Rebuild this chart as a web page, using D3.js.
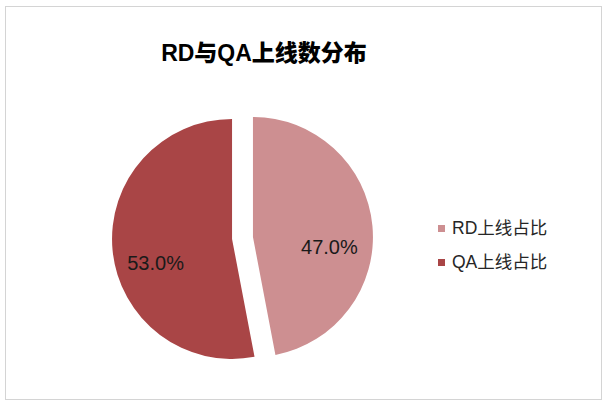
<!DOCTYPE html>
<html>
<head>
<meta charset="utf-8">
<script src="https://cdn.jsdelivr.net/npm/d3@7"></script>
<style>
  body { margin: 0; background: #fff; }
  svg { display: block; }
  text { font-family: "Liberation Sans", Arial, "Noto Sans CJK SC", sans-serif; }
</style>
</head>
<body>
<svg id="chart" width="606" height="404"></svg>
<script>
var categories = ["RD上线占比", "QA上线占比"];
var shares = [47.0, 53.0];
var colors = ["#cd8f91", "#a94546"];
var title = "RD与QA上线数分布";

var svg = d3.select("#chart");

// chart frame
svg.append("rect")
    .attr("x", 5.5).attr("y", 6.5)
    .attr("width", 596).attr("height", 393)
    .attr("fill", "none")
    .attr("stroke", "#d4d4d4");

svg.append("text")
    .attr("x", 264).attr("y", 53)
    .attr("text-anchor", "middle")
    .attr("dominant-baseline", "central")
    .style("font-size", "23px")
    .style("font-weight", "900")
    .text(title);

var cx = 242.5, cy = 238, radius = 120, explode = 10.5;

var pie = d3.pie().sort(null).value(function (d) { return d; });
var arcs = pie(shares);

var arc = d3.arc().innerRadius(0).outerRadius(radius);
var labelArc = d3.arc().innerRadius(radius * 0.64).outerRadius(radius * 0.64);

var offset = function (d) {
    var a = (d.startAngle + d.endAngle) / 2;
    return [Math.sin(a) * explode, -Math.cos(a) * explode];
};

var g = svg.append("g").attr("transform", "translate(" + cx + "," + cy + ")");

var slices = g.selectAll("g.slice")
    .data(arcs)
    .enter().append("g")
    .attr("class", "slice")
    .attr("transform", function (d) { var o = offset(d); return "translate(" + o[0] + "," + o[1] + ")"; });

slices.append("path")
    .attr("d", arc)
    .attr("fill", function (d, i) { return colors[i]; });

// labels sit a bit below the centroid, like the original
slices.append("text")
    .attr("transform", function (d) { var c = labelArc.centroid(d); return "translate(" + c[0] + "," + (c[1] + 17) + ")"; })
    .attr("text-anchor", "middle")
    .attr("dominant-baseline", "central")
    .style("font-size", "20px")
    .attr("fill", "#1a1a1a")
    .text(function (d) { return d.value.toFixed(1) + "%"; });

// legend
var legend = svg.selectAll("g.legend")
    .data(categories)
    .enter().append("g")
    .attr("class", "legend")
    .attr("transform", function (d, i) { return "translate(438," + (228 + i * 34) + ")"; });

legend.append("rect")
    .attr("x", 0).attr("y", -3)
    .attr("width", 7).attr("height", 7)
    .attr("fill", function (d, i) { return colors[i]; });

legend.append("text")
    .attr("x", 14).attr("y", 0)
    .attr("dominant-baseline", "central")
    .style("font-size", "17.5px")
    .attr("fill", "#262626")
    .text(function (d) { return d; });
</script>
</body>
</html>
